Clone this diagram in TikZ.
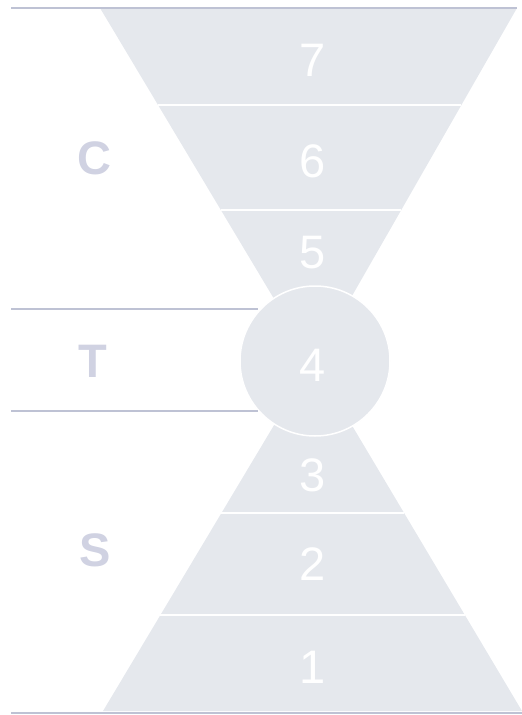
\documentclass[tikz,border=0pt]{standalone}
\usepackage{fontspec}
\setmainfont{Liberation Sans}
\usepackage{tikz}
\usetikzlibrary{calc}

\definecolor{funnelfill}{RGB}{229,232,237}
\definecolor{ruleline}{RGB}{190,194,212}
\definecolor{sidetext}{RGB}{208,210,226}

\begin{document}
\begin{tikzpicture}[
    x=1pt, y=-1pt,
    every node/.style={font=\fontsize{47}{47}\selectfont, inner sep=0pt},
    level/.style={text=white},
    side/.style={text=sidetext, font=\fontsize{47}{47}\selectfont\bfseries},
    rule/.style={ruleline, line width=1.6pt},
    divider/.style={white, line width=1.5pt}
]
\useasboundingbox (0,0) rectangle (522,715);

% === FUNNEL SHAPES ===

% upper triangle
\coordinate (topL) at (100,8);
\coordinate (topR) at (517,8);
\coordinate (topApex) at (313,364);
\fill[funnelfill] (topL) -- (topR) -- (topApex) -- cycle;

% lower triangle
\coordinate (botL) at (103,711);
\coordinate (botR) at (522,711);
\coordinate (botApex) at (313,360);
\fill[funnelfill] (botL) -- (botR) -- (botApex) -- cycle;

% white dividers
\draw[divider] ($(topL)!0.2725!(topApex)$) -- ($(topR)!0.2725!(topApex)$);
\draw[divider] ($(topL)!0.5674!(topApex)$) -- ($(topR)!0.5674!(topApex)$);
\draw[divider] ($(botL)!0.5641!(botApex)$) -- ($(botR)!0.5641!(botApex)$);
\draw[divider] ($(botL)!0.2735!(botApex)$) -- ($(botR)!0.2735!(botApex)$);

% middle circle
\node[circle, fill=funnelfill, draw=white, line width=1.5pt, minimum size=150pt] (hub) at (315,361) {};

% === RULES ===

\draw[rule] (11,8) -- (topR);
\draw[rule] (11,309) -- (258,309);
\draw[rule] (11,411) -- (258,411);
\draw[rule] (11,713) -- (522,713);

% === LABELS ===

\node[level] (seven) at (313,60) {7};
\node[level] (six) at (313,161) {6};
\node[level] (five) at (313,253) {5};
\node[level] (four) at (313,365) {4};
\node[level] (three) at (313,475) {3};
\node[level] (two) at (313,564) {2};
\node[level] (one) at (313,667) {1};

\node[side] (C) at (94,158) {C};
\node[side] (T) at (93,361) {T};
\node[side] (S) at (95,550) {S};

\end{tikzpicture}
\end{document}
